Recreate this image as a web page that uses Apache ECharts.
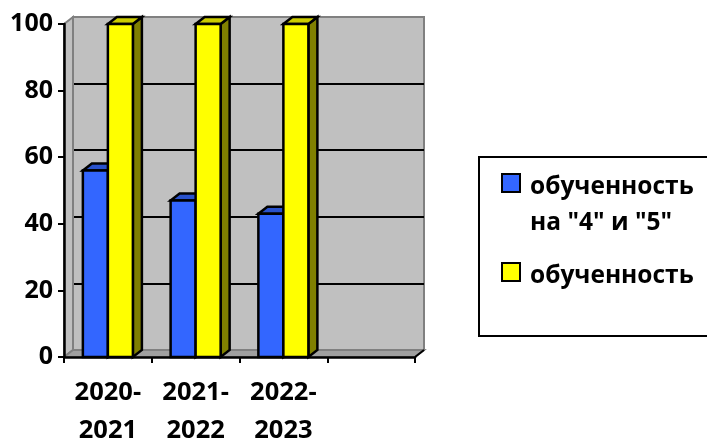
<!DOCTYPE html>
<html><head><meta charset="utf-8">
<style>html,body{margin:0;padding:0;background:#fff}#c{width:707px;height:441px}</style>
<script src="https://cdn.jsdelivr.net/npm/echarts@6/dist/echarts.min.js"></script>
</head><body><div id="c"></div>
<script>
const categories = ['2020-\n2021', '2021-\n2022', '2022-\n2023', ''];
const seriesNames = ['обученность\nна "4" и "5"', 'обученность'];
const knowledgeQuality = [56, 47, 43];
const knowledge = [100, 100, 100];
const yTicks = [0, 20, 40, 60, 80, 100];

const FONT = '"Open Sans"';
const DX = 9, DY = -7;
const chart = echarts.init(document.getElementById('c'), null, {renderer: 'canvas'});

function barRender(fill, topFill, sideFill, dir) {
  return function (params, api) {
    const band = api.size([1, 0])[0];
    const w = band * 0.285;
    const c = api.coord([api.value(0), api.value(1)]);
    const b = api.coord([api.value(0), 0]);
    const x = dir < 0 ? c[0] - w : c[0];
    const st = {stroke: '#000', lineWidth: 2.5, lineJoin: 'miter'};
    return {type: 'group', children: [
      {type: 'polygon', shape: {points: [[x + w, c[1]], [x + w + DX, c[1] + DY], [x + w + DX, b[1] + DY], [x + w, b[1]]]}, style: Object.assign({fill: sideFill}, st)},
      {type: 'polygon', shape: {points: [[x, c[1]], [x + DX, c[1] + DY], [x + w + DX, c[1] + DY], [x + w, c[1]]]}, style: Object.assign({fill: topFill}, st)},
      {type: 'rect', shape: {x: x, y: c[1], width: w, height: b[1] - c[1]}, style: Object.assign({fill: fill}, st)}
    ]};
  };
}

function wallRender(params, api) {
  const cs = params.coordSys;
  const v = api.value(1);
  const p = api.coord([0, v]);
  const ch = [];
  if (v === 0) {
    ch.push({type: 'polygon', shape: {points: [[cs.x, cs.y], [cs.x + DX, cs.y + DY], [cs.x + DX, cs.y + cs.height + DY], [cs.x, cs.y + cs.height]]}, style: {fill: '#c0c0c0', stroke: '#808080', lineWidth: 2}});
    ch.push({type: 'polygon', shape: {points: [[cs.x, cs.y + cs.height], [cs.x + DX, cs.y + cs.height + DY], [cs.x + cs.width + DX, cs.y + cs.height + DY], [cs.x + cs.width, cs.y + cs.height]]}, style: {fill: '#a0a0a0', stroke: '#808080', lineWidth: 2}});
    ch.push({type: 'line', shape: {x1: cs.x + cs.width, y1: cs.y + cs.height, x2: cs.x + cs.width + DX, y2: cs.y + cs.height + DY}, style: {stroke: '#000', lineWidth: 2}});
  } else if (v < 100) {
    ch.push({type: 'line', shape: {x1: p[0], y1: p[1], x2: p[0] + DX, y2: p[1] + DY}, style: {stroke: '#000', lineWidth: 2}});
  }
  return {type: 'group', children: ch};
}

chart.setOption({
  animation: false,
  backgroundColor: '#fff',
  graphic: [{type: 'rect', z: 0, shape: {x: 479, y: 157, width: 260, height: 179}, style: {fill: '#fff', stroke: '#000', lineWidth: 2}}],
  grid: [
    {left: 64, top: 24, width: 351, height: 333, z: 1, outerBoundsMode: 'none'},
    {left: 73, top: 17, width: 351, height: 333, show: true, backgroundColor: '#c0c0c0', borderColor: '#808080', borderWidth: 2, z: 0, outerBoundsMode: 'none'}
  ],
  xAxis: [
    {gridIndex: 0, type: 'category', data: categories, z: 5,
      axisLine: {lineStyle: {color: '#000', width: 2.5}},
      axisTick: {show: true, alignWithLabel: false, length: 6, lineStyle: {color: '#000', width: 2}},
      axisLabel: {interval: 0, color: '#000', fontFamily: FONT, fontWeight: 'bold', fontSize: 25.5, lineHeight: 38, margin: 17}},
    {gridIndex: 1, type: 'category', data: categories, axisLine: {show: false}, axisTick: {show: false}, axisLabel: {show: false}, splitLine: {show: false}}
  ],
  yAxis: [
    {gridIndex: 0, type: 'value', min: 0, max: 100, interval: 20, z: 5,
      axisLine: {show: true, lineStyle: {color: '#000', width: 2.5}},
      axisTick: {show: true, length: 6, lineStyle: {color: '#000', width: 2}},
      axisLabel: {color: '#000', fontFamily: FONT, fontWeight: 'bold', fontSize: 25, margin: 11},
      splitLine: {show: false}},
    {gridIndex: 1, type: 'value', min: 0, max: 100, interval: 20,
      axisLine: {show: false}, axisTick: {show: false}, axisLabel: {show: false},
      splitLine: {show: true, showMinLine: false, showMaxLine: false, lineStyle: {color: '#000', width: 2}}}
  ],
  legend: {
    orient: 'vertical', left: 501, top: 133,
    padding: 0,
    itemWidth: 18, itemHeight: 26, itemGap: 17,
    icon: 'path://M0 0H18V18H0ZM0 26',
    align: 'left',
    formatter: n => n.indexOf('\n') >= 0 ? '\n' + n : n,
    textStyle: {color: '#000', fontFamily: FONT, fontWeight: 'bold', fontSize: 24.5, lineHeight: 36, padding: [0, 0, 0, 5]},
    data: [
      {name: seriesNames[0], itemStyle: {color: '#3366ff', borderColor: '#000', borderWidth: 2}},
      {name: seriesNames[1], itemStyle: {color: '#ffff00', borderColor: '#000', borderWidth: 2}}
    ]
  },
  series: [
    {type: 'custom', name: 'wall', z: 1, silent: true, renderItem: wallRender, data: yTicks.map(v => [0, v])},
    {type: 'custom', name: seriesNames[0], z: 3, itemStyle: {color: '#3366ff'}, renderItem: barRender('#3366ff', '#2952cc', '#1a3380', -1),
      data: knowledgeQuality.map((v, i) => [i, v])},
    {type: 'custom', name: seriesNames[1], z: 4, itemStyle: {color: '#ffff00'}, renderItem: barRender('#ffff00', '#cccc00', '#808000', 1),
      data: knowledge.map((v, i) => [i, v])}
  ]
});
</script></body></html>
